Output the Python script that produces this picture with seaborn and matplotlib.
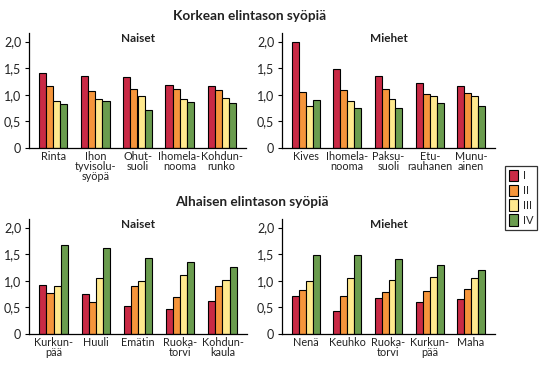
import matplotlib
matplotlib.use("Agg")
import matplotlib.pyplot as plt
import seaborn as sns
import pandas as pd
from matplotlib.patches import Patch

# ---- data ----
classes = ["I", "II", "III", "IV"]

high_women_cats = ["Rinta", "Ihon\ntyvisolu-\nsyöpä", "Ohut-\nsuoli", "Ihomela-\nnooma", "Kohdun-\nrunko"]
high_women_I = [1.41, 1.35, 1.33, 1.18, 1.16]
high_women_II = [1.16, 1.07, 1.11, 1.11, 1.09]
high_women_III = [0.89, 0.92, 0.98, 0.92, 0.94]
high_women_IV = [0.83, 0.89, 0.72, 0.86, 0.84]

high_men_cats = ["Kives", "Ihomela-\nnooma", "Paksu-\nsuoli", "Etu-\nrauhanen", "Munu-\nainen"]
high_men_I = [2.00, 1.48, 1.35, 1.22, 1.16]
high_men_II = [1.05, 1.09, 1.11, 1.01, 1.03]
high_men_III = [0.79, 0.88, 0.92, 0.98, 0.98]
high_men_IV = [0.90, 0.75, 0.75, 0.84, 0.79]

low_women_cats = ["Kurkun-\npää", "Huuli", "Emätin", "Ruoka-\ntorvi", "Kohdun-\nkaula"]
low_women_I = [0.92, 0.75, 0.52, 0.47, 0.62]
low_women_II = [0.77, 0.60, 0.90, 0.69, 0.90]
low_women_III = [0.90, 1.05, 0.99, 1.10, 1.01]
low_women_IV = [1.67, 1.61, 1.42, 1.35, 1.25]

low_men_cats = ["Nenä", "Keuhko", "Ruoka-\ntorvi", "Kurkun-\npää", "Maha"]
low_men_I = [0.71, 0.43, 0.67, 0.60, 0.65]
low_men_II = [0.82, 0.71, 0.78, 0.80, 0.84]
low_men_III = [0.99, 1.05, 1.01, 1.07, 1.05]
low_men_IV = [1.48, 1.48, 1.40, 1.29, 1.21]

yticks = [0, 0.5, 1.0, 1.5, 2.0]
ytick_labels = ["0", "0,5", "1,0", "1,5", "2,0"]

colors = ["#c92a45", "#f5953b", "#ffe98e", "#6a9c4e"]

sns.set_theme(style="white")
plt.rcParams["font.family"] = ["Lato", "DejaVu Sans"]

W, H = 540, 372
fig = plt.figure(figsize=(W / 100, H / 100), dpi=100)


def make_df(cats, I, II, III, IV):
    rows = []
    for vals, cl in zip([I, II, III, IV], classes):
        for c, v in zip(cats, vals):
            rows.append({"cat": c, "cls": cl, "val": v})
    return pd.DataFrame(rows)


def add_ax(x0, y0, x1, y1):
    return fig.add_axes([x0 / W, 1 - y1 / H, (x1 - x0) / W, (y1 - y0) / H])


panels = [
    ((29, 33, 246, 148), "Naiset", high_women_cats, high_women_I, high_women_II, high_women_III, high_women_IV),
    ((282, 33, 495, 148), "Miehet", high_men_cats, high_men_I, high_men_II, high_men_III, high_men_IV),
    ((29, 219, 247, 334), "Naiset", low_women_cats, low_women_I, low_women_II, low_women_III, low_women_IV),
    ((282, 219, 495, 334), "Miehet", low_men_cats, low_men_I, low_men_II, low_men_III, low_men_IV),
]

for box, title, cats, I, II, III, IV in panels:
    ax = add_ax(*box)
    df = make_df(cats, I, II, III, IV)
    sns.barplot(data=df, x="cat", y="val", hue="cls", order=cats, hue_order=classes,
                palette=colors, width=0.67, gap=0, edgecolor="black", linewidth=0.8,
                legend=False, ax=ax, saturation=1)
    ax.set_xlim(-0.58, 4.58)
    ax.set_ylim(0, 2.16)
    ax.set_yticks(yticks)
    ax.set_yticklabels(ytick_labels, fontsize=9, color="#222222")
    ax.set_xlabel("")
    ax.set_ylabel("")
    ax.tick_params(axis="x", length=0, pad=2.5, labelsize=7.8, labelcolor="#222222")
    ax.tick_params(axis="y", length=3, width=0.8, color="black", pad=2.5, left=True)
    for lbl in ax.get_xticklabels():
        lbl.set_linespacing(0.88)
    for s in ["top", "right"]:
        ax.spines[s].set_visible(False)
    for s in ["left", "bottom"]:
        ax.spines[s].set_color("black")
        ax.spines[s].set_linewidth(0.9)
    ax.text(0.5, 0.955, title, transform=ax.transAxes, ha="center", va="center",
            fontsize=8.5, fontweight="bold", color="#222222")

fig.text(250 / W, 1 - 16 / H, "Korkean elintason syöpiä", ha="center", va="center",
         fontsize=9.8, fontweight="bold", color="#222222")
fig.text(252 / W, 1 - 202 / H, "Alhaisen elintason syöpiä", ha="center", va="center",
         fontsize=9.8, fontweight="bold", color="#222222")

handles = [Patch(facecolor=c, edgecolor="black", linewidth=0.8) for c in colors]
leg = fig.legend(handles, classes, loc="upper left", bbox_to_anchor=(505 / W, 1 - 166 / H),
                 frameon=True, fancybox=False, edgecolor="black", fontsize=8,
                 handlelength=0.8, handleheight=1.2, handletextpad=0.45,
                 labelspacing=0.3, borderpad=0.35, borderaxespad=0)
leg.get_frame().set_linewidth(0.9)

fig.savefig("out.png", dpi=100)
